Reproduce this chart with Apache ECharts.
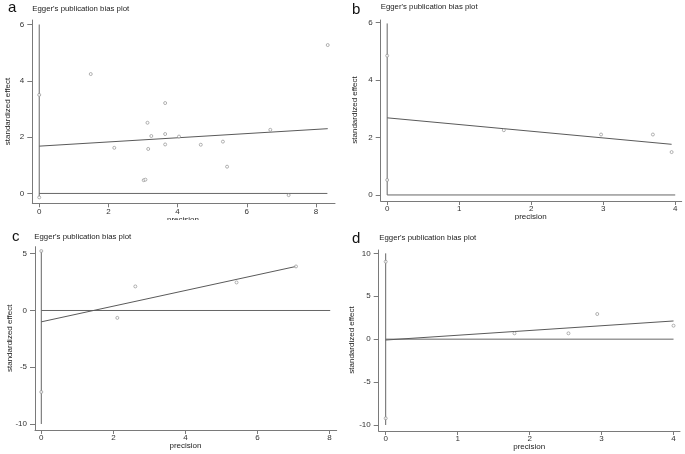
<!DOCTYPE html>
<html><head><meta charset="utf-8">
<script src="https://cdn.jsdelivr.net/npm/echarts@6/dist/echarts.min.js"></script>
<style>html,body{margin:0;padding:0;background:#fff}#c{width:685px;height:454px}</style>
</head><body><div id="c"></div>
<script>
// ---- data ----
const panelLetters = ['a', 'b', 'c', 'd'];
const plotTitle = "Egger's publication bias plot";
const xName = 'precision';
const yName = 'standardized effect';

// panel a
const aPrecision = [0, 0, 1.49, 2.17, 3.02, 3.07, 3.13, 3.15, 3.24, 3.64, 3.64, 3.64, 4.04, 4.67, 5.31, 5.43, 6.68, 7.21, 8.34];
const aEffect    = [3.50, -0.14, 4.24, 1.62, 0.47, 0.49, 2.51, 1.58, 2.04, 3.21, 2.11, 1.74, 2.02, 1.73, 1.84, 0.95, 2.26, -0.06, 5.27];
const aFitX = [0, 8.34], aFitY = [1.68, 2.30];
const aZeroX = [0, 8.33];
const aCI = [-0.12, 6.0];
const aXTicks = [0, 2, 4, 6, 8], aYTicks = [0, 2, 4, 6];
const aXRange = [-0.2, 8.55], aYRange = [-0.35, 6.16];

// panel b
const bPrecision = [0, 0, 1.62, 2.97, 3.69, 3.95];
const bEffect    = [4.84, 0.52, 2.25, 2.10, 2.10, 1.49];
const bFitX = [0, 3.95], bFitY = [2.68, 1.76];
const bZeroX = [0, 4.0];
const bCI = [0, 5.96];
const bXTicks = [0, 1, 2, 3, 4], bYTicks = [0, 2, 4, 6];
const bXRange = [-0.09, 4.09], bYRange = [-0.21, 6.08];

// panel c
const cPrecision = [0, 0, 2.11, 2.61, 5.42, 7.07];
const cEffect    = [5.24, -7.18, -0.65, 2.12, 2.47, 3.88];
const cFitX = [0, 7.07], cFitY = [-1.0, 3.88];
const cZeroX = [0, 8.02];
const cCI = [-10, 5.3];
const cXTicks = [0, 2, 4, 6, 8], cYTicks = [-10, -5, 0, 5];
const cXRange = [-0.175, 8.2], cYRange = [-10.53, 5.62];

// panel d
const dPrecision = [0, 0, 1.79, 2.54, 2.94, 4.0];
const dEffect    = [9.03, -9.22, 0.68, 0.68, 2.93, 1.57];
const dFitX = [0, 4.0], dFitY = [-0.1, 2.12];
const dZeroX = [0, 4.0];
const dCI = [-10, 10];
const dXTicks = [0, 1, 2, 3, 4], dYTicks = [-10, -5, 0, 5, 10];
const dXRange = [-0.097, 4.09], dYRange = [-10.7, 10.39];

// ---- layout / style ----
const panels = [
  {px: aPrecision, py: aEffect, fx: aFitX, fy: aFitY, zx: aZeroX, ci: aCI, xt: aXTicks, yt: aYTicks, xr: aXRange, yr: aYRange,
   grid: {left: 32.3, top: 20, width: 302.7, height: 183.3},
   letter: [8, 8.2], title: [32.3, 9.3], yname: [8, 111.5], xname: [183, 219.4]},
  {px: bPrecision, py: bEffect, fx: bFitX, fy: bFitY, zx: bZeroX, ci: bCI, xt: bXTicks, yt: bYTicks, xr: bXRange, yr: bYRange,
   grid: {left: 380.7, top: 20, width: 301, height: 181},
   letter: [352, 9.8], title: [380.7, 6.7], yname: [354.5, 110], xname: [530.7, 217]},
  {px: cPrecision, py: cEffect, fx: cFitX, fy: cFitY, zx: cZeroX, ci: cCI, xt: cXTicks, yt: cYTicks, xr: cXRange, yr: cYRange,
   grid: {left: 35, top: 246.7, width: 301.7, height: 183.3},
   letter: [12, 237.2], title: [34.3, 236.5], yname: [10, 338.3], xname: [185.5, 445.7]},
  {px: dPrecision, py: dEffect, fx: dFitX, fy: dFitY, zx: dZeroX, ci: dCI, xt: dXTicks, yt: dYTicks, xr: dXRange, yr: dYRange,
   grid: {left: 378.7, top: 250, width: 301.3, height: 181},
   letter: [352, 238.8], title: [379.3, 238.3], yname: [352, 340], xname: [529.2, 446.7]}
];

const FONT = 'Liberation Sans, Arial, Helvetica, sans-serif';
const axisColor = '#7a7a7a';
const lineColor = '#666';
const labelColor = '#333';

const grids = [], xAxes = [], yAxes = [], series = [], graphics = [];
panels.forEach((p, i) => {
  grids.push(Object.assign({containLabel: false, outerBoundsMode: 'none'}, p.grid));
  xAxes.push({
    type: 'value', gridIndex: i, min: p.xr[0], max: p.xr[1],
    axisLine: {show: true, onZero: false, lineStyle: {color: axisColor, width: 1}},
    axisTick: {show: true, length: 4, customValues: p.xt, lineStyle: {color: axisColor}},
    axisLabel: {customValues: p.xt, margin: 4, fontSize: 8, color: labelColor, fontFamily: FONT},
    splitLine: {show: false}
  });
  yAxes.push({
    type: 'value', gridIndex: i, min: p.yr[0], max: p.yr[1],
    axisLine: {show: true, onZero: false, lineStyle: {color: axisColor, width: 1}},
    axisTick: {show: true, length: 5, customValues: p.yt, lineStyle: {color: axisColor}},
    axisLabel: {customValues: p.yt, margin: 8, fontSize: 8, color: labelColor, fontFamily: FONT},
    splitLine: {show: false}
  });
  const common = {xAxisIndex: i, yAxisIndex: i, silent: true, animation: false, clip: false};
  // vertical line at x = 0
  series.push(Object.assign({type: 'line', data: [[0, p.ci[0]], [0, p.ci[1]]], showSymbol: false,
    lineStyle: {color: lineColor, width: 1}}, common));
  // zero line
  series.push(Object.assign({type: 'line', data: [[p.zx[0], 0], [p.zx[1], 0]], showSymbol: false,
    lineStyle: {color: lineColor, width: 1}}, common));
  // regression line
  series.push(Object.assign({type: 'line', data: [[p.fx[0], p.fy[0]], [p.fx[1], p.fy[1]]], showSymbol: false,
    lineStyle: {color: '#5a5a5a', width: 1}}, common));
  // points
  series.push(Object.assign({type: 'scatter', data: p.px.map((x, k) => [x, p.py[k]]), symbol: 'circle', symbolSize: 3,
    itemStyle: {color: '#fff', borderColor: '#888', borderWidth: 0.8}, z: 5}, common));

  graphics.push({type: 'text', x: p.letter[0], y: p.letter[1], style: {text: panelLetters[i], fontSize: 15, fontFamily: FONT, fill: '#111', align: 'left', verticalAlign: 'middle'}});
  graphics.push({type: 'text', x: p.title[0], y: p.title[1], style: {text: plotTitle, fontSize: 7.8, fontFamily: FONT, fill: '#222', align: 'left', verticalAlign: 'middle'}});
  graphics.push({type: 'text', x: p.yname[0], y: p.yname[1], rotation: Math.PI / 2, style: {text: yName, fontSize: 8, fontFamily: FONT, fill: '#222', align: 'center', verticalAlign: 'middle'}});
  graphics.push({type: 'text', x: p.xname[0], y: p.xname[1], style: {text: xName, fontSize: 8, fontFamily: FONT, fill: '#222', align: 'center', verticalAlign: 'middle'}});
});
// crop band between top and bottom rows
graphics.push({type: 'rect', shape: {x: 0, y: 220, width: 685, height: 9}, style: {fill: '#fff'}, z: 100});

const chart = echarts.init(document.getElementById('c'), null, {renderer: 'canvas'});
chart.setOption({
  animation: false,
  backgroundColor: '#fff',
  grid: grids, xAxis: xAxes, yAxis: yAxes, series: series,
  graphic: {elements: graphics}
});
</script></body></html>
